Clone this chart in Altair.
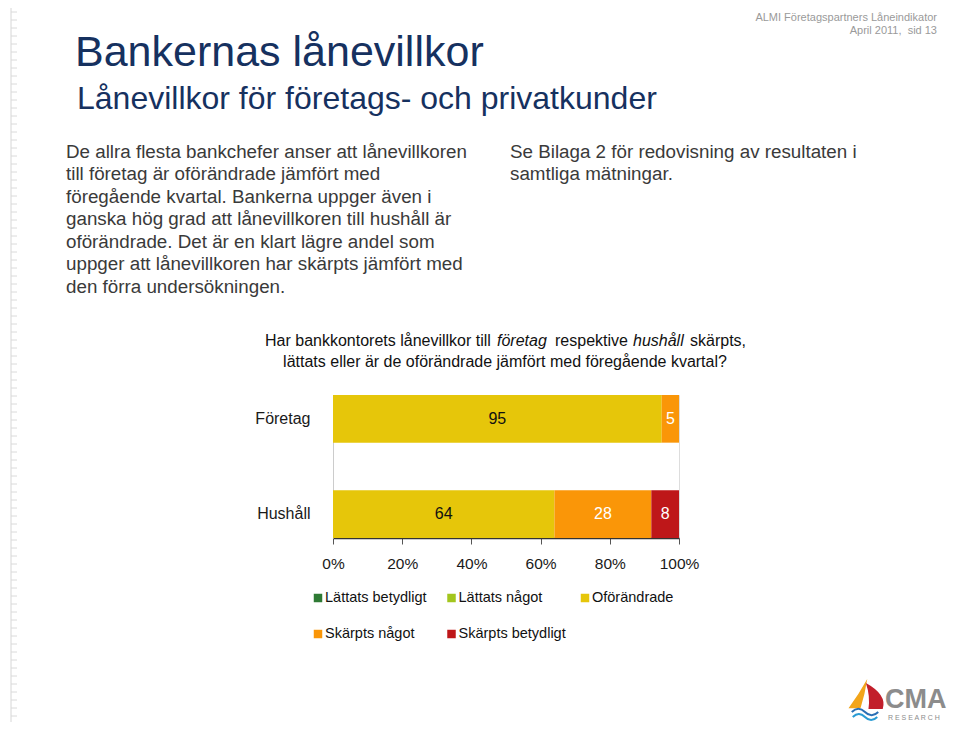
import altair as alt
import pandas as pd

# ---------------- data ----------------
groups = ["Företag", "Hushåll"]
categories = ["Lättats betydligt", "Lättats något", "Oförändrade", "Skärpts något", "Skärpts betydligt"]
colors = ["#2E7A34", "#A3C61E", "#E6C60A", "#FA9608", "#BE1719"]
lattats_betydligt = [0, 0]
lattats_nagot = [0, 0]
oforandrade = [95, 64]
skarpts_nagot = [5, 28]
skarpts_betydligt = [0, 8]
tick_values = [0, 20, 40, 60, 80, 100]

series = [lattats_betydligt, lattats_nagot, oforandrade, skarpts_nagot, skarpts_betydligt]
rows = []
for ci, (cat, vals) in enumerate(zip(categories, series)):
    for g, v in zip(groups, vals):
        rows.append({"group": g, "category": cat, "value": v, "order": ci})
df = pd.DataFrame(rows)

# plot-area origin on the page (screen px)
OX, OY = 333, 395
W, H = 346, 143
FONT = "Liberation Sans"

color_scale = alt.Scale(domain=categories, range=colors)


def txt(lines, size, color, align="left", baseline="middle", weight="normal", style="normal", dx=0):
    d = pd.DataFrame([{"px": x - OX, "py": y - OY, "t": t} for (x, y, t) in lines])
    return alt.Chart(d).mark_text(
        align=align, baseline=baseline, fontSize=size, color=color, font=FONT,
        fontWeight=weight, fontStyle=style, dx=dx
    ).encode(
        x=alt.X("px:Q", scale=None, axis=None),
        y=alt.Y("py:Q", scale=None, axis=None),
        text="t:N",
    )


base = alt.Chart(df).transform_stack(
    stack="value", groupby=["group"], as_=["v0", "v1"],
    sort=[alt.SortField("order", order="ascending")]
).transform_calculate(mid="(datum.v0 + datum.v1) / 2")

yenc = alt.Y(
    "group:N", sort=groups, title=None,
    scale=alt.Scale(paddingInner=0.5, paddingOuter=0),
    axis=alt.Axis(labelFontSize=16, labelColor="#1a1a1a", labelFont=FONT, ticks=False,
                  domain=True, domainColor="#cccccc", labelPadding=23),
)

bars = base.mark_bar().encode(
    x=alt.X("v0:Q", scale=alt.Scale(domain=[0, 100]), title=None,
            axis=alt.Axis(values=tick_values, labelExpr="datum.value + '%'", labelFontSize=15.5,
                          labelFont=FONT, labelColor="#1a1a1a", grid=False, tickSize=6,
                          tickColor="#555555", domainColor="#333333", domainWidth=1.5,
                          labelPadding=12, labelFlush=False)),
    x2="v1:Q",
    y=yenc,
    color=alt.Color("category:N", scale=color_scale, legend=None),
)

lab_dark = base.transform_filter("datum.value > 0 && datum.category == 'Oförändrade'").mark_text(
    fontSize=16, font=FONT, color="#111111", baseline="middle"
).encode(x=alt.X("mid:Q"), y=alt.Y("group:N", sort=groups), text="value:Q")

lab_light = base.transform_filter("datum.value > 0 && datum.category != 'Oförändrade'").mark_text(
    fontSize=16, font=FONT, color="#ffffff", baseline="middle"
).encode(x=alt.X("mid:Q"), y=alt.Y("group:N", sort=groups), text="value:Q")

# legend laid out as a 3-column grid below the chart
LEG_X0, LEG_Y0, LEG_DX, LEG_DY = 318, 598, 133.5, 36
leg_df = pd.DataFrame([
    {"category": c,
     "px": LEG_X0 + (i % 3) * LEG_DX - OX,
     "py": LEG_Y0 + (i // 3) * LEG_DY - OY}
    for i, c in enumerate(categories)
])
leg_sym = alt.Chart(leg_df).mark_square(size=72, opacity=1).encode(
    x=alt.X("px:Q", scale=None, axis=None), y=alt.Y("py:Q", scale=None, axis=None),
    color=alt.Color("category:N", scale=color_scale, legend=None),
)
leg_lab = alt.Chart(leg_df).mark_text(
    align="left", baseline="middle", dx=7, fontSize=14.5, font=FONT, color="#111111"
).encode(
    x=alt.X("px:Q", scale=None, axis=None), y=alt.Y("py:Q", scale=None, axis=None),
    text="category:N",
)

navy = "#16315F"
grey_txt = "#3a3a3a"

title = txt([(75, 53, "Bankernas lånevillkor")], 43, navy)
subtitle = txt([(77, 99, "Lånevillkor för företags- och privatkunder")], 32, navy)
header = alt.layer(
    txt([(937, 18, "ALMI Företagspartners Låneindikator")], 11, "#9a9a9a", align="right"),
    txt([(937, 31, "April 2011,\u00a0 sid 13")], 11, "#9a9a9a", align="right"),
)
body = txt([
    (66, 152, "De allra flesta bankchefer anser att lånevillkoren"),
    (66, 174, "till företag är oförändrade jämfört med"),
    (66, 197, "föregående kvartal. Bankerna uppger även i"),
    (66, 219, "ganska hög grad att lånevillkoren till hushåll är"),
    (66, 242, "oförändrade. Det är en klart lägre andel som"),
    (66, 264, "uppger att lånevillkoren har skärpts jämfört med"),
    (66, 287, "den förra undersökningen."),
], 18.8, grey_txt)
right = txt([
    (510, 152, "Se Bilaga 2 för redovisning av resultaten i"),
    (510, 174, "samtliga mätningar."),
], 18.8, grey_txt)

q1 = alt.layer(
    txt([(265, 341, "Har bankkontorets lånevillkor till")], 16, "#111111"),
    txt([(497, 341, "företag")], 16, "#111111", style="italic"),
    txt([(555, 341, "respektive")], 16, "#111111"),
    txt([(633, 341, "hushåll")], 16, "#111111", style="italic"),
    txt([(690, 341, "skärpts,")], 16, "#111111"),
)
q2 = txt([(505, 362, "lättats eller är de oförändrade jämfört med föregående kvartal?")], 16, "#111111",
         align="center")

# logo
logo_txt = alt.layer(
    txt([(885, 708, "CMA")], 27, "#8c8c8c", weight="bold", baseline="alphabetic"),
    txt([(888, 718, "R E S E A R C H")], 7, "#8c8c8c"),
)


def shape_pt(x, y, path, size, fill=None, stroke=None, sw=1.5):
    d = pd.DataFrame([{"px": x - OX, "py": y - OY}])
    kw = dict(shape=path, size=size)
    if fill:
        kw.update(filled=True, fill=fill, strokeWidth=0, opacity=1)
    else:
        kw.update(filled=False, stroke=stroke, strokeWidth=sw, opacity=1)
    return alt.Chart(d).mark_point(**kw).encode(
        x=alt.X("px:Q", scale=None, axis=None), y=alt.Y("py:Q", scale=None, axis=None))


sails = alt.layer(
    shape_pt(862, 694, "M 0.35 -1 Q -0.2 0 -0.9 0.95 L -0.1 0.95 Q 0.2 0 0.35 -1 Z", 900, fill="#F2A51A"),
    shape_pt(873, 696, "M -0.55 -1 Q 1.1 -0.1 0.75 1 L -0.35 1 Q -0.2 0 -0.55 -1 Z", 676, fill="#C21F2B"),
    shape_pt(865, 712, "M -1 0 Q -0.5 -0.5 0 0 T 1 0", 700, stroke="#2A6FB5", sw=2),
    shape_pt(865, 717, "M -1 0 Q -0.5 -0.5 0 0 T 1 0", 600, stroke="#2A9BD4", sw=2),
)

# left ruler decoration
ruler_v = pd.DataFrame([{"px": x - OX} for x in [2, 7, 11]])
ruler_lines = alt.Chart(ruler_v).mark_rule(color="#d6d6d6", strokeWidth=1).encode(
    x=alt.X("px:Q", scale=None, axis=None), y=alt.value(-OY), y2=alt.value(730 - OY))
tick_rows = pd.DataFrame([{"py": y - OY} for y in range(4, 728, 8)])
ruler_ticks = alt.Chart(tick_rows).mark_rule(color="#dadada", strokeWidth=1).encode(
    y=alt.Y("py:Q", scale=None, axis=None), x=alt.value(11 - OX), x2=alt.value(17 - OX))

chart = alt.layer(
    ruler_lines, ruler_ticks,
    bars, lab_dark, lab_light, leg_sym, leg_lab,
    title, subtitle, header, body, right, q1, q2, logo_txt, sails,
).properties(
    width=W, height=H,
    autosize="none",
    padding={"left": OX - 8, "top": OY - 8, "right": 944 - (OX - 8) - W, "bottom": 714 - (OY - 8) - H},
).configure_view(stroke=None).configure(font=FONT, background="white")

chart.save("out.html", embed_options={"renderer": "svg", "actions": False})
